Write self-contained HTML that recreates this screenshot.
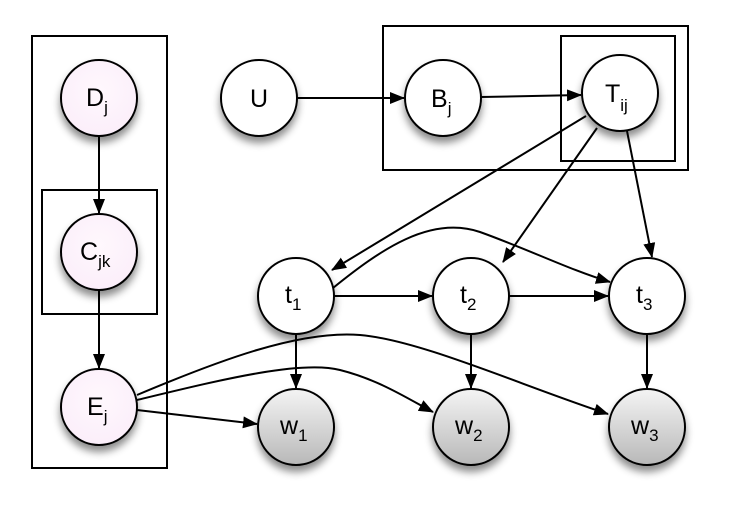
<!DOCTYPE html>
<html><head><style>body{margin:0;background:#fff}svg{display:block}</style></head><body>
<svg width="736" height="508" viewBox="0 0 736 508" xmlns="http://www.w3.org/2000/svg" font-family="Liberation Sans, sans-serif">
<defs>
<marker id="a" markerWidth="15" markerHeight="12" refX="14" refY="6" orient="auto" markerUnits="userSpaceOnUse"><path d="M0,0 L15,6 L0,12 z" fill="#000"/></marker>
<radialGradient id="pk" cx="50%" cy="40%" r="60%"><stop offset="0" stop-color="#fff8fd"/><stop offset="1" stop-color="#fbeefa"/></radialGradient>
<linearGradient id="gr" x1="0" y1="0" x2="0" y2="1"><stop offset="0" stop-color="#f4f4f4"/><stop offset="1" stop-color="#b8b8b8"/></linearGradient>
<filter id="sh" x="-30%" y="-30%" width="160%" height="170%"><feDropShadow dx="0" dy="6" stdDeviation="4" flood-color="#000" flood-opacity="0.45"/></filter>
</defs>
<g fill="none" stroke="#000" stroke-width="2">
<rect x="32" y="36" width="135" height="432"/>
<rect x="42" y="190" width="115" height="124"/>
<rect x="383" y="26" width="305" height="144"/>
<rect x="561" y="36" width="114" height="125"/>
</g>
<g fill="none" stroke="#000" stroke-width="2" marker-end="url(#a)">
<line x1="99" y1="136" x2="99" y2="213"/>
<line x1="99" y1="290" x2="99" y2="368"/>
<line x1="297" y1="98" x2="404" y2="98"/>
<line x1="481" y1="97" x2="581" y2="95"/>
<line x1="586" y1="116" x2="332" y2="270"/>
<line x1="597" y1="128" x2="503" y2="262"/>
<line x1="627" y1="131" x2="652" y2="257"/>
<path d="M333,288 C380,250 430,215 480,232 C530,250 570,270 610,282"/>
<line x1="334" y1="296" x2="432" y2="296"/>
<line x1="509" y1="296" x2="608" y2="296"/>
<line x1="296" y1="334" x2="296" y2="388"/>
<line x1="471" y1="334" x2="471" y2="388"/>
<line x1="647" y1="334" x2="647" y2="388"/>
<line x1="137" y1="410" x2="257" y2="424"/>
<path d="M137,400 C220,380 300,360 340,370 C380,380 410,400 433,412"/>
<path d="M137,395 C220,360 300,330 360,335 C420,340 520,385 608,414"/>
</g>
<g stroke="#000" stroke-width="2">
<circle cx="99" cy="98" r="38" fill="url(#pk)" filter="url(#sh)"/>
<circle cx="99" cy="252" r="38" fill="url(#pk)" filter="url(#sh)"/>
<circle cx="99" cy="407" r="38" fill="url(#pk)" filter="url(#sh)"/>
<circle cx="259" cy="98" r="38" fill="#fff" filter="url(#sh)"/>
<circle cx="443" cy="98" r="38" fill="#fff" filter="url(#sh)"/>
<circle cx="620" cy="93" r="38" fill="#fff" filter="url(#sh)"/>
<circle cx="296" cy="296" r="38" fill="#fff" filter="url(#sh)"/>
<circle cx="471" cy="296" r="38" fill="#fff" filter="url(#sh)"/>
<circle cx="647" cy="296" r="38" fill="#fff" filter="url(#sh)"/>
<circle cx="296" cy="427" r="38" fill="url(#gr)" filter="url(#sh)"/>
<circle cx="471" cy="427" r="38" fill="url(#gr)" filter="url(#sh)"/>
<circle cx="647" cy="427" r="38" fill="url(#gr)" filter="url(#sh)"/>
</g>
<g font-size="25" fill="#000">
<text x="86" y="106">D<tspan font-size="17" dy="7">j</tspan></text>
<text x="80" y="260">C<tspan font-size="17" dy="7">jk</tspan></text>
<text x="87" y="415">E<tspan font-size="17" dy="7">j</tspan></text>
<text x="250" y="107">U</text>
<text x="431" y="107">B<tspan font-size="17" dy="7">j</tspan></text>
<text x="605" y="102">T<tspan font-size="17" dy="9">ij</tspan></text>
<text x="285" y="303">t<tspan font-size="17" dy="7">1</tspan></text>
<text x="460" y="303">t<tspan font-size="17" dy="7">2</tspan></text>
<text x="636" y="303">t<tspan font-size="17" dy="7">3</tspan></text>
<text x="280" y="434">w<tspan font-size="17" dy="7">1</tspan></text>
<text x="455" y="434">w<tspan font-size="17" dy="7">2</tspan></text>
<text x="631" y="434">w<tspan font-size="17" dy="7">3</tspan></text>
</g>
</svg>
</body></html>
